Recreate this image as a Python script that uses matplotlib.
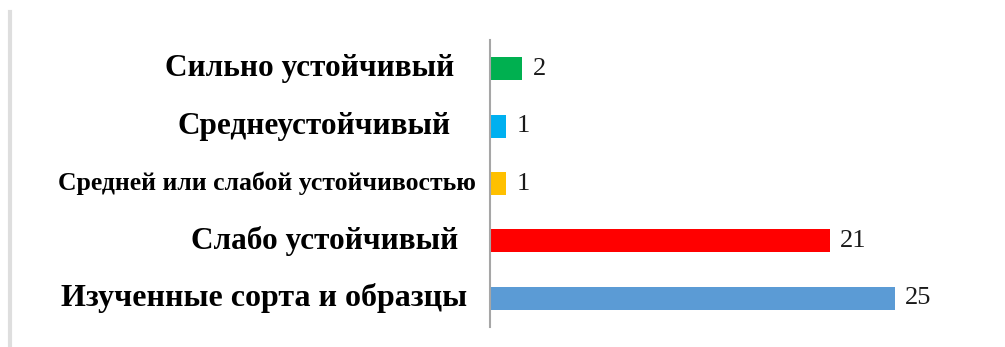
import matplotlib
matplotlib.use("Agg")
import matplotlib.pyplot as plt
from matplotlib.lines import Line2D
from matplotlib.transforms import blended_transform_factory, offset_copy

categories = ["Сильно устойчивый", "Среднеустойчивый", "Средней или слабой устойчивостью",
              "Слабо устойчивый", "Изученные сорта и образцы"]
values = [2, 1, 1, 21, 25]
colors = ["#00B050", "#00B0F0", "#FFC000", "#FF0000", "#5B9BD5"]

# per-label look (size in pt, gap to axis in px)
label_sizes = [22.5, 22.5, 18.5, 22.5, 23]
label_gaps = [36, 39, 14, 32, 23]

fig = plt.figure(figsize=(10.05, 3.47), dpi=100)
W, H = 1005, 347
ax = fig.add_axes([490 / W, 1 - 327 / H, 486 / W, 287 / H])

ypos = list(range(len(categories)))
ax.barh(ypos, values, height=0.4, color=colors)
ax.set_xlim(0, 30)
ax.set_ylim(len(categories) - 0.5, -0.5)

for s in ["top", "right", "bottom"]:
    ax.spines[s].set_visible(False)
ax.spines["left"].set_color("#a6a6a6")
ax.spines["left"].set_linewidth(1.5)
ax.set_xticks([])
ax.set_yticks([])

trans = blended_transform_factory(ax.transAxes, ax.transData)
for y, lab, sz, gap in zip(ypos, categories, label_sizes, label_gaps):
    t = offset_copy(trans, fig=fig, x=-gap, y=0, units="dots")
    ax.text(0, y, lab, transform=t, ha="right", va="center",
            fontsize=sz, fontweight="bold", family="Liberation Serif")

for y, v in zip(ypos, values):
    t = offset_copy(ax.transData, fig=fig, x=10, y=0, units="dots")
    ax.text(v, y, str(v), transform=t, ha="left", va="center",
            fontsize=19, family="Liberation Serif", color="#1a1a1a")

fig.add_artist(Line2D([10 / W, 10 / W], [0, 1 - 12 / H], color="#dedede", lw=3))

fig.savefig("out.png", dpi=100)
